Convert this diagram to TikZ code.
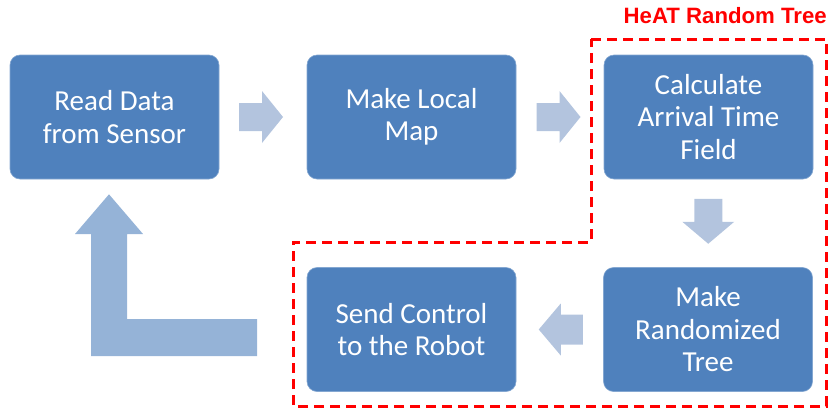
\documentclass[tikz,border=0pt]{standalone}
\usepackage{fontspec}
\setmainfont{Carlito}
\newfontfamily\titlefont{Liberation Sans}
\usetikzlibrary{calc}
\definecolor{boxblue}{HTML}{4F81BD}
\definecolor{flowarrow}{HTML}{B3C4DE}
\definecolor{looparrow}{HTML}{95B3D7}
\definecolor{regionred}{HTML}{FF0000}
\tikzset{
  stepbox/.style={rectangle, rounded corners=10pt, fill=boxblue, draw=boxblue!70!white,
    line width=0.6pt, minimum width=209pt, minimum height=124pt, inner sep=0pt,
    text=white, align=center, font=\fontsize{29}{32.5}\selectfont},
  blockright/.pic={\fill[flowarrow] (-22,-14) -- (1,-14) -- (1,-26) -- (22,0) -- (1,26) -- (1,14) -- (-22,14) -- cycle;},
  blockleft/.pic={\fill[flowarrow] (22,-15) -- (0,-15) -- (0,-26) -- (-22,0) -- (0,26) -- (0,15) -- (22,15) -- cycle;},
  blockdown/.pic={\fill[flowarrow] (-14,-22) -- (-14,1) -- (-26,1) -- (0,23) -- (26,1) -- (14,1) -- (14,-22) -- cycle;},
  region/.style={draw=regionred, line width=3pt, dash pattern=on 10pt off 6pt},
}
\begin{document}
\begin{tikzpicture}[x=1pt, y=-1pt]
\useasboundingbox (0,0) rectangle (830,410);

% dashed region around the tree-building steps
\coordinate (r1) at (591,39);
\coordinate (r2) at (826,39);
\coordinate (r3) at (826,406);
\coordinate (r4) at (293,406);
\coordinate (r5) at (293,242);
\coordinate (r6) at (591,242);
\draw[region] (r1) -- (r2) -- (r3) -- (r4) -- (r5) -- (r6) -- cycle;
\node[text=regionred, font=\titlefont\bfseries\fontsize{22.2}{24}\selectfont, anchor=base east, inner sep=0pt] (title) at (827,23) {HeAT Random Tree};

% process steps
\node[stepbox] (read)  at (114.5,117)   {Read Data\\from Sensor};
\node[stepbox] (local) at (411.5,117)   {Make Local\\Map};
\node[stepbox] (field) at (708.5,117)   {Calculate\\Arrival Time\\Field};
\node[stepbox] (tree)  at (708,329.5)   {Make\\Randomized\\Tree};
\node[stepbox] (send)  at (411.5,329.5) {Send Control\\to the Robot};

% flow arrows between the steps
\pic at ($(read.east)!0.5!(local.west)+(-2,0)$) {blockright};
\pic at ($(local.east)!0.5!(field.west)+(-1.5,0)$) {blockright};
\pic at ($(field.south)!0.5!(tree.north)+(0,-2.5)$) {blockdown};
\pic at ($(tree.west)!0.5!(send.east)+(1,0)$) {blockleft};

% loop back from sending the control to reading the sensor
\coordinate (loopend) at (257,356);
\coordinate (looptip) at ($(read.south)+(-5.5,15)$);
\fill[looparrow] (91,356) -- (loopend) -- (257,319) -- (127,319) -- (127,234)
  -- (143,234) -- (looptip) -- (75,234) -- (91,234) -- cycle;
\end{tikzpicture}
\end{document}
